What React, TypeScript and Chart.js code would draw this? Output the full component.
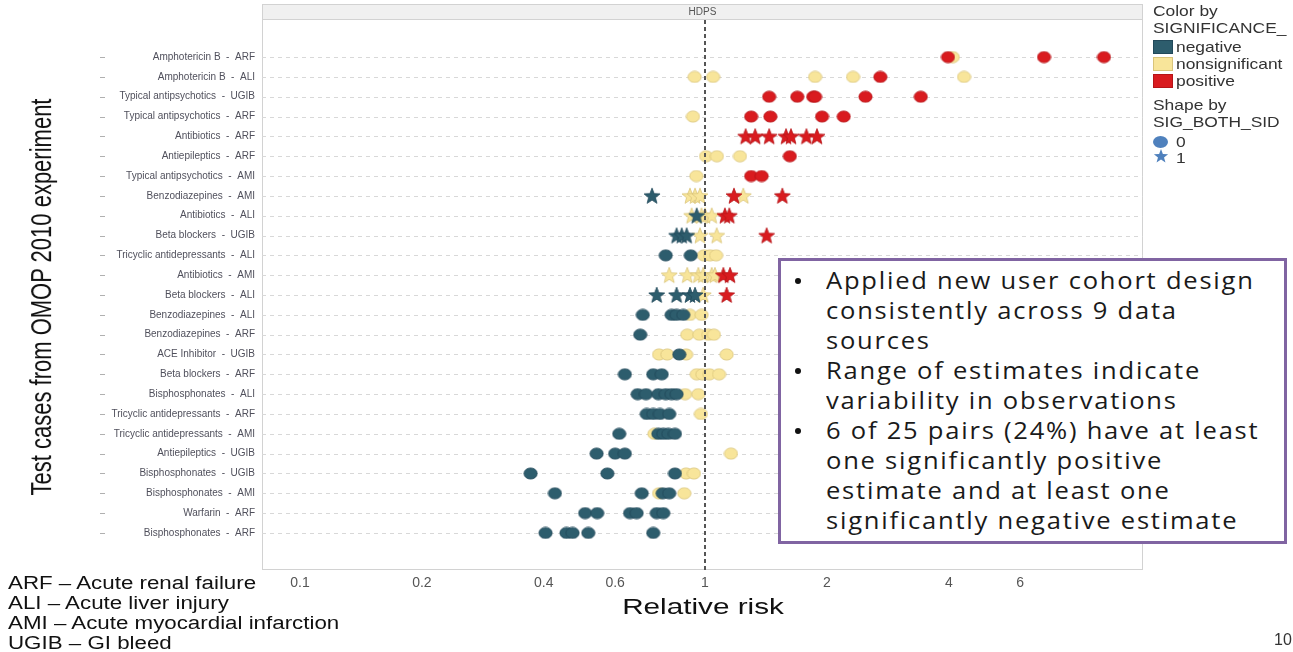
import React, { useEffect, useRef } from 'react';
import { Chart, registerables } from 'chart.js';

Chart.register(...registerables);

// ---------- data ----------
const stripTitle = 'HDPS';
const xTitle = 'Relative risk';
const yTitle = 'Test cases from OMOP 2010 experiment';

const rowDrugs = [
  'Amphotericin B', 'Amphotericin B', 'Typical antipsychotics', 'Typical antipsychotics',
  'Antibiotics', 'Antiepileptics', 'Typical antipsychotics', 'Benzodiazepines',
  'Antibiotics', 'Beta blockers', 'Tricyclic antidepressants', 'Antibiotics',
  'Beta blockers', 'Benzodiazepines', 'Benzodiazepines', 'ACE Inhibitor',
  'Beta blockers', 'Bisphosphonates', 'Tricyclic antidepressants', 'Tricyclic antidepressants',
  'Antiepileptics', 'Bisphosphonates', 'Bisphosphonates', 'Warfarin', 'Bisphosphonates',
];

const rowOutcomes = [
  'ARF', 'ALI', 'UGIB', 'ARF', 'ARF', 'ARF', 'AMI', 'AMI', 'ALI', 'UGIB', 'ALI', 'AMI',
  'ALI', 'ALI', 'ARF', 'UGIB', 'ARF', 'ALI', 'ARF', 'AMI', 'UGIB', 'UGIB', 'AMI', 'ARF', 'ARF',
];

// rows where SIG_BOTH_SID = 1 (star shape), 0-based
const starRows = [4, 7, 8, 9, 11, 12];

// relative-risk estimates per row, by significance
const negativeRR: number[][] = [
  [], [], [], [], [], [], [],
  [0.74],
  [0.954],
  [0.851, 0.876, 0.901],
  [0.80, 0.922],
  [],
  [0.76, 0.851, 0.918, 0.945],
  [0.702, 0.827, 0.851, 0.884],
  [0.692],
  [0.864],
  [0.634, 0.745, 0.782],
  [0.682, 0.715, 0.767, 0.80, 0.827, 0.851],
  [0.718, 0.745, 0.774, 0.816],
  [0.614, 0.767, 0.789, 0.812, 0.843],
  [0.54, 0.60, 0.634],
  [0.371, 0.574, 0.843],
  [0.426, 0.698, 0.786, 0.816],
  [0.506, 0.542, 0.653, 0.678, 0.76, 0.789],
  [0.404, 0.455, 0.471, 0.515, 0.745],
];

const nonsignificantRR: number[][] = [
  [4.09],
  [0.943, 1.047, 1.87, 2.32, 4.36],
  [],
  [0.934],
  [],
  [1.006, 1.07, 1.22],
  [0.952],
  [0.918, 0.945, 0.972, 1.243],
  [0.927, 0.98, 1.0, 1.039],
  [0.972, 1.069],
  [0.994, 1.029, 1.065],
  [0.816, 0.904, 0.963, 0.99, 1.039, 1.058],
  [0.99],
  [0.918, 0.981],
  [0.904, 0.968, 1.019, 1.052],
  [0.77, 0.807, 0.898, 1.131],
  [0.954, 0.985, 1.025, 1.083],
  [0.893, 0.963],
  [0.977],
  [0.75],
  [1.159],
  [0.898, 0.939],
  [0.77, 0.889],
  [],
  [],
];

const positiveRR: number[][] = [
  [3.98, 6.87, 9.66],
  [2.71],
  [1.44, 1.69, 1.85, 1.87, 2.49, 3.41],
  [1.30, 1.45, 1.945, 2.20],
  [1.26, 1.33, 1.44, 1.585, 1.63, 1.78, 1.89],
  [1.62],
  [1.30, 1.38],
  [1.179, 1.552],
  [1.12, 1.148],
  [1.42],
  [],
  [1.11, 1.153],
  [1.131],
  [], [], [], [], [], [], [], [], [], [], [], [],
];

const xTicks = [0.1, 0.2, 0.4, 0.6, 1, 2, 4, 6];

const annotationLines: string[][] = [
  ['Applied new user cohort design', 'consistently across 9 data', 'sources'],
  ['Range of estimates indicate', 'variability in observations'],
  ['6 of 25 pairs (24%) have at least', 'one significantly positive', 'estimate and at least one', 'significantly negative estimate'],
];

const footnotes = [
  'ARF \u2013 Acute renal failure',
  'ALI \u2013 Acute liver injury',
  'AMI \u2013 Acute myocardial infarction',
  'UGIB \u2013 GI bleed',
];

// ---------- styles ----------
const COLORS = {
  negative: { fill: '#2d5d6d', stroke: '#22495a' },
  nonsignificant: { fill: '#f8e59a', stroke: '#d9c47a' },
  positive: { fill: '#d91b1f', stroke: '#b51418' },
};

function makeEllipse(fill: string, stroke: string) {
  const c = document.createElement('canvas');
  c.width = 15; c.height = 13;
  const g = c.getContext('2d')!;
  g.beginPath();
  g.ellipse(7.5, 6.5, 6.6, 5.6, 0, 0, Math.PI * 2);
  g.fillStyle = fill; g.fill();
  g.lineWidth = 0.8; g.strokeStyle = stroke; g.stroke();
  return c;
}

function makeStar(fill: string, stroke: string) {
  const c = document.createElement('canvas');
  c.width = 18; c.height = 18;
  const g = c.getContext('2d')!;
  const cx = 9, cy = 9.6, R = 8.4, r = 3.6;
  g.beginPath();
  for (let i = 0; i < 10; i++) {
    const rad = i % 2 === 0 ? R : r;
    const a = -Math.PI / 2 + (i * Math.PI) / 5;
    const px = cx + rad * Math.cos(a), py = cy + rad * Math.sin(a);
    if (i === 0) g.moveTo(px, py); else g.lineTo(px, py);
  }
  g.closePath();
  g.fillStyle = fill; g.fill();
  g.lineWidth = 0.8; g.strokeStyle = stroke; g.stroke();
  return c;
}

function pointsFor(values: number[][], star: boolean) {
  const out: { x: number; y: number }[] = [];
  values.forEach((vals, row) => {
    if (starRows.includes(row) !== star) return;
    vals.forEach((v) => out.push({ x: v, y: row }));
  });
  return out;
}

const panelPlugin = {
  id: 'panelDecor',
  beforeDatasetsDraw(chart: any) {
    const { ctx, chartArea: a, scales } = chart;
    const ys = scales.y;
    ctx.save();
    // facet header strip
    ctx.fillStyle = '#f0f0f0';
    ctx.fillRect(a.left, 4, a.right - a.left, a.top - 4);
    ctx.strokeStyle = '#d2d2d2';
    ctx.lineWidth = 1;
    ctx.strokeRect(a.left + 0.5, 4.5, a.right - a.left - 1, a.top - 4);
    ctx.fillStyle = '#555';
    ctx.font = '10px "Liberation Sans", Arial, sans-serif';
    ctx.textAlign = 'center';
    ctx.textBaseline = 'middle';
    ctx.fillText(stripTitle, (a.left + a.right) / 2, (4 + a.top) / 2 + 1);
    // panel border
    ctx.strokeRect(a.left + 0.5, a.top + 0.5, a.right - a.left - 1, a.bottom - a.top - 1);
    // row grid lines
    rowDrugs.forEach((_, i) => {
      const py = Math.round(ys.getPixelForValue(i)) + 0.5;
      ctx.setLineDash([4, 4]);
      ctx.strokeStyle = '#d8d8d8';
      ctx.beginPath();
      ctx.moveTo(a.left, py); ctx.lineTo(a.right, py);
      ctx.stroke();
      ctx.setLineDash([]);
      ctx.strokeStyle = '#b0b0b0';
      ctx.beginPath();
      ctx.moveTo(100, py); ctx.lineTo(105, py);
      ctx.stroke();
    });
    ctx.restore();
  },
  afterDatasetsDraw(chart: any) {
    const { ctx, chartArea: a, scales } = chart;
    const px = Math.round(scales.x.getPixelForValue(1));
    ctx.save();
    ctx.setLineDash([4, 3]);
    ctx.strokeStyle = '#555';
    ctx.lineWidth = 2;
    ctx.beginPath();
    ctx.moveTo(px, a.top + 1);
    ctx.lineTo(px, a.bottom);
    ctx.stroke();
    ctx.restore();
  },
};

export default function App() {
  const ref = useRef<HTMLCanvasElement>(null);

  useEffect(() => {
    document.body.style.margin = '0';
    document.body.style.overflow = 'hidden';
    const img = {
      negative: [makeEllipse(COLORS.negative.fill, COLORS.negative.stroke), makeStar(COLORS.negative.fill, COLORS.negative.stroke)],
      nonsignificant: [makeEllipse(COLORS.nonsignificant.fill, COLORS.nonsignificant.stroke), makeStar(COLORS.nonsignificant.fill, COLORS.nonsignificant.stroke)],
      positive: [makeEllipse(COLORS.positive.fill, COLORS.positive.stroke), makeStar(COLORS.positive.fill, COLORS.positive.stroke)],
    };
    const ds = (label: string, values: number[][], key: 'negative' | 'nonsignificant' | 'positive', star: boolean, order: number) => ({
      label: `${label}${star ? ' (1)' : ' (0)'}`,
      data: pointsFor(values, star),
      pointStyle: img[key][star ? 1 : 0],
      pointRadius: 7,
      backgroundColor: COLORS[key].fill,
      borderColor: COLORS[key].stroke,
      order,
    });

    const chart = new Chart(ref.current!, {
      type: 'scatter',
      data: {
        datasets: [
          ds('positive', positiveRR, 'positive', true, 0),
          ds('positive', positiveRR, 'positive', false, 1),
          ds('negative', negativeRR, 'negative', true, 2),
          ds('negative', negativeRR, 'negative', false, 3),
          ds('nonsignificant', nonsignificantRR, 'nonsignificant', true, 4),
          ds('nonsignificant', nonsignificantRR, 'nonsignificant', false, 5),
        ] as any,
      },
      options: {
        animation: false,
        responsive: false,
        devicePixelRatio: 1,
        events: [],
        layout: { padding: { top: 19, right: 150, left: 0, bottom: 0 } },
        plugins: { legend: { display: false }, tooltip: { enabled: false } },
        scales: {
          x: {
            type: 'logarithmic',
            bounds: 'data',
            min: 0.0806,
            max: 12.06,
            grid: { display: false, drawTicks: false },
            border: { display: false },
            afterBuildTicks: (axis: any) => { axis.ticks = xTicks.map((v) => ({ value: v })); },
            afterFit: (axis: any) => { axis.height = 82; },
            ticks: {
              autoSkip: false,
              maxRotation: 0,
              padding: 5,
              color: '#555',
              font: { size: 14, family: '"Liberation Sans", Arial, sans-serif' },
              callback: (v: any) => String(v),
            },
          },
          y: {
            type: 'linear',
            bounds: 'data',
            reverse: true,
            min: -1.92,
            max: 25.87,
            grid: { display: false, drawTicks: false },
            border: { display: false },
            afterBuildTicks: (axis: any) => { axis.ticks = rowDrugs.map((_, i) => ({ value: i })); },
            afterFit: (axis: any) => { axis.width = 262; },
            ticks: {
              autoSkip: false,
              padding: 7,
              color: '#50505c',
              font: { size: 10, family: '"Liberation Sans", Arial, sans-serif' },
              callback: (v: any) => `${rowDrugs[v]}  -  ${rowOutcomes[v]}`,
            },
          },
        },
      } as any,
      plugins: [panelPlugin],
    });
    return () => chart.destroy();
  }, []);

  const legendFont = '"Liberation Sans", Arial, sans-serif';
  const lg = (top: number, left: number, text: string) => (
    <div style={{ position: 'absolute', top, left, fontSize: 15, lineHeight: '17px', color: '#333', whiteSpace: 'nowrap', transform: 'scaleX(1.16)', transformOrigin: 'left center' }}>{text}</div>
  );
  const swatch = (top: number, fill: string, stroke: string) => (
    <div style={{ position: 'absolute', top, left: 1153, width: 20, height: 14, background: fill, border: `1px solid ${stroke}`, boxSizing: 'border-box' }} />
  );

  let lineIdx = 0;
  return (
    <div style={{ position: 'relative', width: 1293, height: 652, background: '#fff', overflow: 'hidden', fontFamily: legendFont }}>
      <canvas ref={ref} width={1293} height={652} style={{ position: 'absolute', left: 0, top: 0 }} />

      {/* axis titles */}
      <div style={{ position: 'absolute', left: 42 - 210, top: 297 - 13, width: 420, height: 26, lineHeight: '26px', textAlign: 'center', fontSize: 22, color: '#111', whiteSpace: 'nowrap', transform: 'rotate(-90deg) scaleY(1.3)' }}>{yTitle}</div>
      <div style={{ position: 'absolute', left: 703 - 150, top: 607 - 13, width: 300, height: 26, lineHeight: '26px', textAlign: 'center', fontSize: 22, color: '#111', whiteSpace: 'nowrap', transform: 'scaleX(1.35)' }}>{xTitle}</div>

      {/* legend */}
      {lg(2, 1153, 'Color by')}
      {lg(19, 1153, 'SIGNIFICANCE_')}
      {swatch(40, COLORS.negative.fill, COLORS.negative.stroke)}
      {lg(38, 1176, 'negative')}
      {swatch(57, COLORS.nonsignificant.fill, COLORS.nonsignificant.stroke)}
      {lg(55, 1176, 'nonsignificant')}
      {swatch(74, COLORS.positive.fill, COLORS.positive.stroke)}
      {lg(72, 1176, 'positive')}
      {lg(96, 1153, 'Shape by')}
      {lg(113, 1153, 'SIG_BOTH_SID')}
      <div style={{ position: 'absolute', top: 136, left: 1153, width: 15, height: 12, borderRadius: '50%', background: '#4f81bd' }} />
      {lg(133, 1176, '0')}
      <svg style={{ position: 'absolute', top: 148, left: 1153 }} width={16} height={16} viewBox="0 0 18 18">
        <polygon fill="#4f81bd" points="9,1.2 11.1,6.7 17,6.9 12.4,10.6 14,16.3 9,13 4,16.3 5.6,10.6 1,6.9 6.9,6.7" />
      </svg>
      {lg(149, 1176, '1')}

      {/* annotation box */}
      <div style={{ position: 'absolute', left: 778, top: 258, width: 509, height: 286, border: '3px solid #8064a2', boxSizing: 'border-box', background: '#fff' }}>
        {annotationLines.map((item, bi) => (
          <div key={bi}>
            {item.map((t, li) => {
              const top = 4 + 30 * lineIdx++;
              return (
                <React.Fragment key={li}>
                  {li === 0 && (
                    <div style={{ position: 'absolute', left: 14, top: top + 13, width: 6, height: 6, borderRadius: '50%', background: '#111' }} />
                  )}
                  <div style={{ position: 'absolute', left: 45, top, fontFamily: '"Open Sans", sans-serif', fontSize: 23, lineHeight: '30px', letterSpacing: 1.6, color: '#1a1a1a', whiteSpace: 'nowrap', transform: 'scaleX(1.11)', transformOrigin: 'left center' }}>{t}</div>
                </React.Fragment>
              );
            })}
          </div>
        ))}
      </div>

      {/* footnotes */}
      <div style={{ position: 'absolute', left: 8, top: 573, fontSize: 18, lineHeight: '20px', color: '#111', fontFamily: legendFont, transform: 'scaleX(1.24)', transformOrigin: 'left top' }}>
        {footnotes.map((f, i) => (<div key={i} style={{ whiteSpace: 'nowrap' }}>{f}</div>))}
      </div>

      <div style={{ position: 'absolute', left: 1274, top: 631, fontSize: 16, color: '#333', fontFamily: legendFont }}>10</div>
    </div>
  );
}
